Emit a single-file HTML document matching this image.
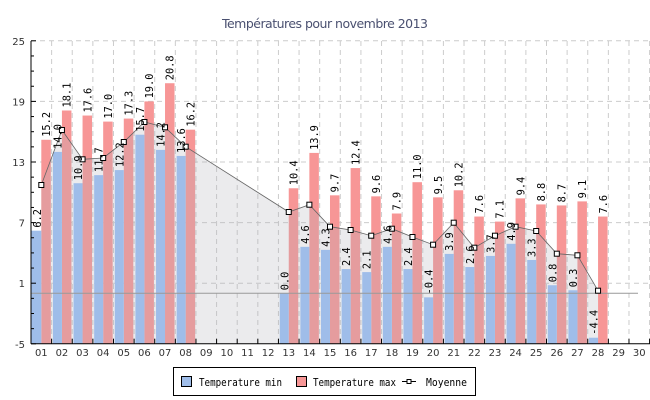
<!DOCTYPE html>
<html><head><meta charset="utf-8"><style>
html,body{margin:0;padding:0;background:#fff;}
svg{display:block;}
</style></head><body>
<svg id="c" xmlns="http://www.w3.org/2000/svg" width="650" height="400" viewBox="0 0 650 400"></svg>
<script>
const s=document.getElementById('c');
const mn={1:6.2,2:14.0,3:10.9,4:11.7,5:12.2,6:15.7,7:14.2,8:13.6,13:0.0,14:4.6,15:4.3,16:2.4,17:2.1,18:4.6,19:2.4,20:-0.4,21:3.9,22:2.6,23:3.7,24:4.9,25:3.3,26:0.8,27:0.3,28:-4.4};
const mx={1:15.2,2:18.1,3:17.6,4:17.0,5:17.3,6:19.0,7:20.8,8:16.2,13:10.4,14:13.9,15:9.7,16:12.4,17:9.6,18:7.9,19:11.0,20:9.5,21:10.2,22:7.6,23:7.1,24:9.4,25:8.8,26:8.7,27:9.1,28:7.6};
const av={1:185,2:130,3:159.3,4:158,5:142,6:122,7:127.3,8:146.7,13:212,14:204.7,15:226.7,16:230,17:235.7,18:228.7,19:237,20:244.7,21:222.7,22:247.7,23:235.7,24:226.7,25:231,26:253.7,27:255.3,28:290.7};
const X0=31,W=20.62,B=343.8,K=10.1;
const y=v=>B-(v+5)*K, cx=i=>X0+(i-0.5)*W;
let h='';
h+='<text x="325" y="28" text-anchor="middle" font-family="DejaVu Sans, sans-serif" font-size="12.5" fill="#4a5070" textLength="206">Températures pour novembre 2013</text>';
for(let v=1;v<=25;v+=6){h+=`<line x1="${X0}" x2="649" y1="${y(v)}" y2="${y(v)}" stroke="#ccc" stroke-dasharray="5,4"/>`;}
for(let i=1;i<=30;i++){const x=X0+i*W;h+=`<line x1="${x}" x2="${x}" y1="41" y2="${B}" stroke="#ccc" stroke-dasharray="5,4"/>`;}
const days=Object.keys(mn).map(Number);
days.forEach(d=>{h+=`<rect x="${cx(d)}" y="${y(mx[d])}" width="9.5" height="${B-y(mx[d])}" fill="#f79696"/>`;});
let pts=days.map(d=>[cx(d),av[d]]);
h+=`<polygon points="${pts[0][0]},${B} ${pts.map(p=>p.join(',')).join(' ')} ${pts[pts.length-1][0]},${B}" fill="rgba(175,175,185,0.25)"/>`;
days.forEach(d=>{const x=d==1?X0:cx(d)-9;h+=`<rect x="${x}" y="${y(mn[d])}" width="${cx(d)-x}" height="${B-y(mn[d])}" fill="#9fbde9"/>`;});
h+=`<line x1="${X0}" x2="638" y1="${y(0)}" y2="${y(0)}" stroke="#999" stroke-width="1"/>`;
h+=`<polyline points="${pts.map(p=>p.join(',')).join(' ')}" fill="none" stroke="#666" stroke-width="0.8"/>`;
pts.forEach(p=>{h+=`<rect x="${p[0]-2.5}" y="${p[1]-2.5}" width="5" height="5" fill="#fff" stroke="#000"/>`;});
const lab=(x,v)=>{const yy=y(v)-3;const t=v.toFixed(1);h+=`<text transform="translate(${x+4},${yy}) rotate(-90)" font-family="DejaVu Sans Mono, Liberation Mono, monospace" font-size="11" textLength="${t.length*6.2}" lengthAdjust="spacingAndGlyphs" fill="#000">${t}</text>`;};
days.forEach(d=>{lab(cx(d)-4.5,mn[d]);lab(cx(d)+4.7,mx[d]);});
h+=`<line x1="${X0}" x2="${X0}" y1="41" y2="${B}" stroke="#000"/>`;
h+=`<line x1="${X0}" x2="650" y1="${B}" y2="${B}" stroke="#000"/>`;
for(let v=-5;v<=25;v+=1.5){const yy=y(v);const maj=((v+5)%6===0);h+=`<line x1="${X0}" x2="${X0+(maj?5:3)}" y1="${yy}" y2="${yy}" stroke="#000"/>`;if(maj)h+=`<text x="${X0-6}" y="${yy+4}" text-anchor="end" font-family="DejaVu Sans, sans-serif" font-size="10" fill="#333">${v}</text>`;}
for(let i=0;i<=30;i++){const x=X0+i*W;h+=`<line x1="${x}" x2="${x}" y1="${B}" y2="${B-5}" stroke="#000"/>`;}
for(let i=1;i<=30;i++){h+=`<text x="${cx(i)}" y="356" text-anchor="middle" font-family="DejaVu Sans, sans-serif" font-size="10" fill="#333">${String(i).padStart(2,'0')}</text>`;}
const lf='font-family="DejaVu Sans Mono, Liberation Mono, monospace" font-size="11" lengthAdjust="spacingAndGlyphs"';
h+=`<rect x="173.5" y="367.5" width="302" height="28" fill="#fff" stroke="#000"/>`;
h+=`<rect x="181.5" y="376.5" width="10" height="10" fill="#9fbde9" stroke="#000"/>`;
h+=`<text x="199" y="386" ${lf} textLength="83">Temperature min</text>`;
h+=`<rect x="296.5" y="376.5" width="10" height="10" fill="#f79696" stroke="#000"/>`;
h+=`<text x="313" y="386" ${lf} textLength="83">Temperature max</text>`;
h+=`<line x1="402" x2="416" y1="381.5" y2="381.5" stroke="#000"/><rect x="407" y="379.5" width="4" height="4" fill="#fff" stroke="#000"/>`;
h+=`<text x="426" y="386" ${lf} textLength="41">Moyenne</text>`;
s.innerHTML=h;
</script>
</body></html>
